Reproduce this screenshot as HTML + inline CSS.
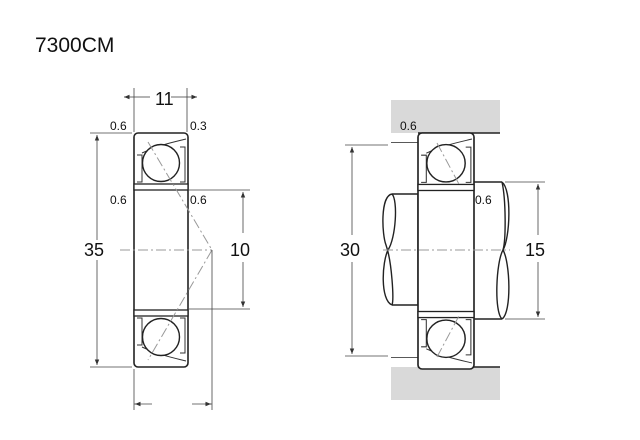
<!DOCTYPE html>
<html><head><meta charset="utf-8"><style>
html,body{margin:0;padding:0;background:#fff;}
svg{display:block}
text{font-family:"Liberation Sans",sans-serif;fill:#111}
</style></head><body>
<svg width="640" height="440" viewBox="0 0 640 440" xmlns="http://www.w3.org/2000/svg">
<defs>
<marker id="a" viewBox="0 0 10 10" refX="10" refY="5" markerWidth="7" markerHeight="7" orient="auto-start-reverse"><path d="M0,1 L10,5 L0,9 z" fill="#333"/></marker>
<g id="brg">
  <rect x="0" y="0" width="54" height="234" rx="4" fill="#fff" stroke="#222" stroke-width="1.6"/>
  <rect x="0" y="51" width="54" height="6" fill="#fff" stroke="#222" stroke-width="1.3"/>
  <rect x="0" y="177" width="54" height="6" fill="#fff" stroke="#222" stroke-width="1.3"/>
  <path d="M3,22 h5 v27 h-5 M46,14 h5 v35 h-5 M3,185 h5 v27 h-5 M46,185 h5 v35 h-5" fill="none" stroke="#333" stroke-width="1"/>
  <path d="M8,20 C25,12 40,9 52,6 M8,214 C25,222 40,225 52,228" fill="none" stroke="#333" stroke-width="1"/>
  <circle cx="27" cy="30" r="18.5" fill="#fff" stroke="#222" stroke-width="1.4"/>
  <circle cx="27" cy="204" r="18.5" fill="#fff" stroke="#222" stroke-width="1.4"/>
</g>
</defs>
<text x="35" y="52" font-size="21">7300CM</text>

<!-- LEFT -->
<use href="#brg" x="134" y="133"/>
<g stroke="#999" stroke-width="1" stroke-dasharray="10,3,2,3" fill="none">
<path d="M148,142 L212,250 L148,360"/>
<path d="M120,250 L212,250"/>
</g>
<g stroke="#444" stroke-width="0.8" fill="none">
<line x1="134" y1="88" x2="134" y2="132"/><line x1="187" y1="88" x2="187" y2="132"/>
<line x1="134" y1="97" x2="150" y2="97"/><line x1="171" y1="97" x2="187" y2="97"/>
<line x1="134" y1="97" x2="124" y2="97" marker-end="url(#a)"/>
<line x1="187" y1="97" x2="197" y2="97" marker-end="url(#a)"/>
<line x1="90" y1="133" x2="132" y2="133"/><line x1="90" y1="367" x2="132" y2="367"/>
<line x1="97" y1="240" x2="97" y2="135" marker-end="url(#a)"/>
<line x1="97" y1="260" x2="97" y2="365" marker-end="url(#a)"/>
<line x1="189" y1="190" x2="250" y2="190"/><line x1="189" y1="309" x2="250" y2="309"/>
<line x1="243" y1="233" x2="243" y2="192" marker-end="url(#a)"/>
<line x1="243" y1="262" x2="243" y2="307" marker-end="url(#a)"/>
<line x1="134" y1="369" x2="134" y2="410"/><line x1="212" y1="250" x2="212" y2="410"/>
<line x1="134" y1="404" x2="152" y2="404"/><line x1="192" y1="404" x2="212" y2="404"/>
<line x1="140" y1="404" x2="135" y2="404" marker-end="url(#a)"/>
<line x1="205" y1="404" x2="211" y2="404" marker-end="url(#a)"/>
</g>
<text x="155" y="105" font-size="18">11</text>
<text x="110" y="130" font-size="12">0.6</text>
<text x="190" y="130" font-size="12">0.3</text>
<text x="110" y="204" font-size="12">0.6</text>
<text x="190" y="204" font-size="12">0.6</text>
<text x="84" y="256" font-size="18">35</text>
<text x="230" y="256" font-size="18">10</text>

<!-- RIGHT -->
<rect x="391" y="100" width="109" height="33" fill="#d9d9d9"/>
<rect x="391" y="367" width="109" height="33" fill="#d9d9d9"/>
<line x1="391" y1="143" x2="418" y2="143" stroke="#222" stroke-width="1.4"/>
<line x1="391" y1="357" x2="418" y2="357" stroke="#222" stroke-width="1.4"/>
<line x1="418" y1="133" x2="500" y2="133" stroke="#222" stroke-width="1.4"/>
<line x1="418" y1="367" x2="500" y2="367" stroke="#222" stroke-width="1.4"/>
<rect x="391" y="143" width="27" height="214" fill="#fff"/>
<!-- shaft -->
<path d="M392,194 L418,194 L418,305 L392,305" fill="#fff" stroke="#222" stroke-width="1.4"/>
<path d="M392,194 C380,196 382,235 386,245 C392,262 394,300 392,305" fill="none" stroke="#222" stroke-width="1.4"/>
<path d="M392,194 C398,200 396,238 388,250 C382,262 380,300 392,305" fill="none" stroke="#222" stroke-width="1.4"/>
<path d="M473,182 L502,182 M473,319 L502,319" stroke="#222" stroke-width="1.4" fill="none"/>
<path d="M502,182 C512,190 510,238 503,250 C496,262 494,312 502,319" fill="none" stroke="#222" stroke-width="1.4"/>
<path d="M502,182 C506,200 506,240 503,250 C510,262 512,312 502,319" fill="none" stroke="#222" stroke-width="1.4"/>
<svg x="418" y="133" width="56" height="236" viewBox="0 0 54 234" preserveAspectRatio="none" overflow="visible"><use href="#brg"/></svg>
<g stroke="#999" stroke-width="1" stroke-dasharray="10,3,2,3" fill="none">
<path d="M383,250 L510,250"/>
<path d="M437,143 L460,186 M437,357 L460,314"/>
</g>
<g stroke="#444" stroke-width="0.8" fill="none">
<line x1="345" y1="145" x2="388" y2="145"/><line x1="345" y1="356" x2="388" y2="356"/>
<line x1="352" y1="235" x2="352" y2="147" marker-end="url(#a)"/>
<line x1="352" y1="262" x2="352" y2="354" marker-end="url(#a)"/>
<line x1="505" y1="182" x2="545" y2="182"/><line x1="505" y1="319" x2="545" y2="319"/>
<line x1="538" y1="235" x2="538" y2="184" marker-end="url(#a)"/>
<line x1="538" y1="262" x2="538" y2="317" marker-end="url(#a)"/>
</g>
<text x="400" y="130" font-size="12">0.6</text>
<text x="475" y="204" font-size="12">0.6</text>
<text x="340" y="256" font-size="18">30</text>
<text x="525" y="256" font-size="18">15</text>
</svg>
</body></html>
